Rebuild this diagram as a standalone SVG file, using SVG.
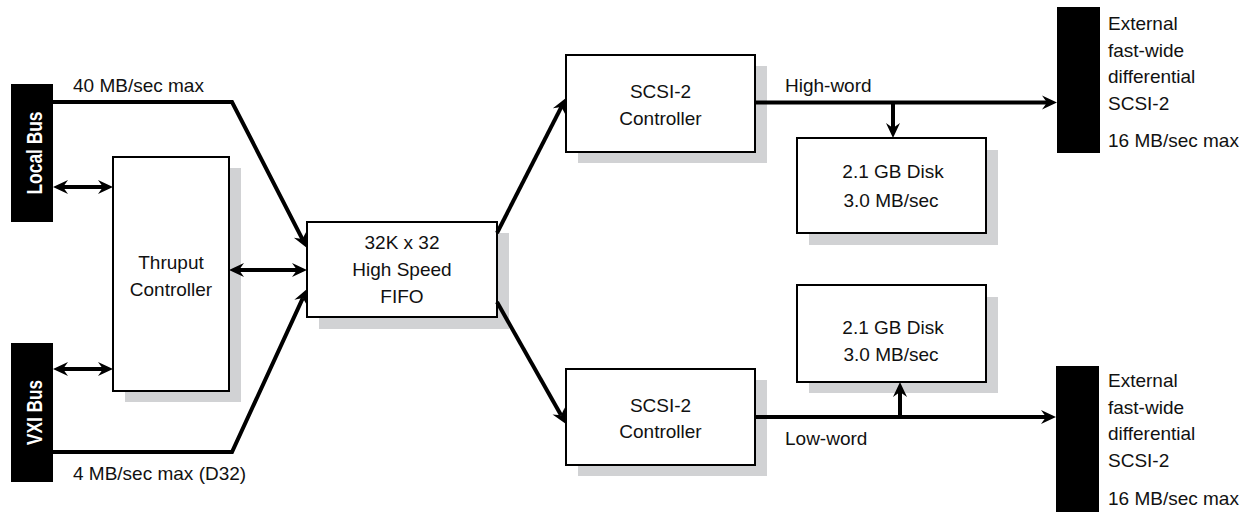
<svg xmlns="http://www.w3.org/2000/svg" width="1248" height="512" viewBox="0 0 1248 512">
  <style>
    .bar { fill: #000; }
    .box { fill: #fff; stroke: #000; stroke-width: 2; }
    .shadow { fill: #d1d2d4; }
    .lbl { font-family: "Liberation Sans", Arial, sans-serif; font-size: 19px; fill: #111; }
    .mid { text-anchor: middle; }
    .bus { font-family: "Liberation Sans", Arial, sans-serif; font-size: 22px; font-weight: bold; fill: #fff; text-anchor: middle; }
    .wire { fill: none; stroke: #000; stroke-width: 4; stroke-linejoin: miter; }
  </style>
  <defs>
    <marker id="head" markerUnits="userSpaceOnUse" markerWidth="30" markerHeight="30" refX="0" refY="0" viewBox="-10 -10 30 20" orient="auto-start-reverse" overflow="visible">
      <path d="M10,0 L-5,-7 L0,0 L-5,7 Z" fill="#000"/>
    </marker>
  </defs>

  <rect width="1248" height="512" fill="#fff"/>

  <!-- bus bars on the left -->
  <g id="local-bus">
    <rect class="bar" x="11" y="84" width="42" height="138"/>
    <text class="bus" transform="translate(41.5,153) rotate(-90)" textLength="83" lengthAdjust="spacingAndGlyphs">Local Bus</text>
  </g>
  <g id="vxi-bus">
    <rect class="bar" x="11" y="343" width="42" height="139"/>
    <text class="bus" transform="translate(41.5,412.5) rotate(-90)" textLength="65" lengthAdjust="spacingAndGlyphs">VXI Bus</text>
  </g>

  <!-- thruput controller -->
  <g id="thruput">
    <rect class="shadow" x="125" y="168" width="116" height="234"/>
    <rect class="box" x="113" y="157" width="116" height="234"/>
    <text class="lbl mid" x="171" y="269">Thruput</text>
    <text class="lbl mid" x="171" y="296">Controller</text>
  </g>

  <!-- FIFO -->
  <g id="fifo">
    <rect class="shadow" x="319" y="233" width="190" height="96"/>
    <rect class="box" x="307" y="222" width="190" height="95"/>
    <text class="lbl mid" x="402" y="249">32K x 32</text>
    <text class="lbl mid" x="402" y="276">High Speed</text>
    <text class="lbl mid" x="402" y="303">FIFO</text>
  </g>

  <!-- SCSI controllers -->
  <g id="scsi-high">
    <rect class="shadow" x="578" y="66" width="189" height="97"/>
    <rect class="box" x="566" y="55" width="189" height="97"/>
    <text class="lbl mid" x="660.5" y="98">SCSI-2</text>
    <text class="lbl mid" x="660.5" y="125">Controller</text>
  </g>
  <g id="scsi-low">
    <rect class="shadow" x="578" y="380" width="189" height="96"/>
    <rect class="box" x="566" y="369" width="189" height="96"/>
    <text class="lbl mid" x="660.5" y="412">SCSI-2</text>
    <text class="lbl mid" x="660.5" y="438">Controller</text>
  </g>

  <!-- disks -->
  <g id="disk-high">
    <rect class="shadow" x="809" y="150" width="189" height="95"/>
    <rect class="box" x="797" y="138" width="189" height="95"/>
    <text class="lbl mid" x="893" y="178">2.1 GB Disk</text>
    <text class="lbl mid" x="891" y="207">3.0 MB/sec</text>
  </g>
  <g id="disk-low">
    <rect class="shadow" x="809" y="297" width="189" height="96"/>
    <rect class="box" x="797" y="285" width="189" height="97"/>
    <text class="lbl mid" x="893" y="334">2.1 GB Disk</text>
    <text class="lbl mid" x="891" y="361">3.0 MB/sec</text>
  </g>

  <!-- external SCSI ports -->
  <g id="ext-high">
    <rect class="bar" x="1057" y="7" width="43" height="146"/>
    <text class="lbl" x="1108" y="30">External</text>
    <text class="lbl" x="1108" y="56.5">fast-wide</text>
    <text class="lbl" x="1108" y="83">differential</text>
    <text class="lbl" x="1108" y="110">SCSI-2</text>
    <text class="lbl" x="1108" y="147">16 MB/sec max</text>
  </g>
  <g id="ext-low">
    <rect class="bar" x="1056" y="366" width="43" height="146"/>
    <text class="lbl" x="1108" y="387">External</text>
    <text class="lbl" x="1108" y="413.5">fast-wide</text>
    <text class="lbl" x="1108" y="440">differential</text>
    <text class="lbl" x="1108" y="467">SCSI-2</text>
    <text class="lbl" x="1108" y="505">16 MB/sec max</text>
  </g>

  <!-- connectors -->
  <g id="connectors">
    <path class="wire" d="M63,187 H103" marker-start="url(#head)" marker-end="url(#head)"/>
    <path class="wire" d="M63,369 H103" marker-start="url(#head)" marker-end="url(#head)"/>
    <path class="wire" d="M239,270 H297" marker-start="url(#head)" marker-end="url(#head)"/>
    <path class="wire" d="M53,102 H232 L302.4,239.1" marker-end="url(#head)"/>
    <path class="wire" d="M53,452 H232 L302.8,298.1" marker-end="url(#head)"/>
    <path class="wire" d="M497,233 L561.4,106.9" marker-end="url(#head)"/>
    <path class="wire" d="M497,302 L561.1,415.3" marker-end="url(#head)"/>
    <path class="wire" d="M755,102.5 H1047" marker-end="url(#head)"/>
    <path class="wire" d="M893,102.5 V128" marker-end="url(#head)"/>
    <path class="wire" d="M755,417 H1046" marker-end="url(#head)"/>
    <path class="wire" d="M900,417 V392" marker-end="url(#head)"/>
  </g>

  <!-- link labels -->
  <g id="labels">
    <text class="lbl" x="73" y="92">40 MB/sec max</text>
    <text class="lbl" x="73" y="480">4 MB/sec max (D32)</text>
    <text class="lbl" x="785" y="92">High-word</text>
    <text class="lbl" x="785" y="445">Low-word</text>
  </g>
</svg>
